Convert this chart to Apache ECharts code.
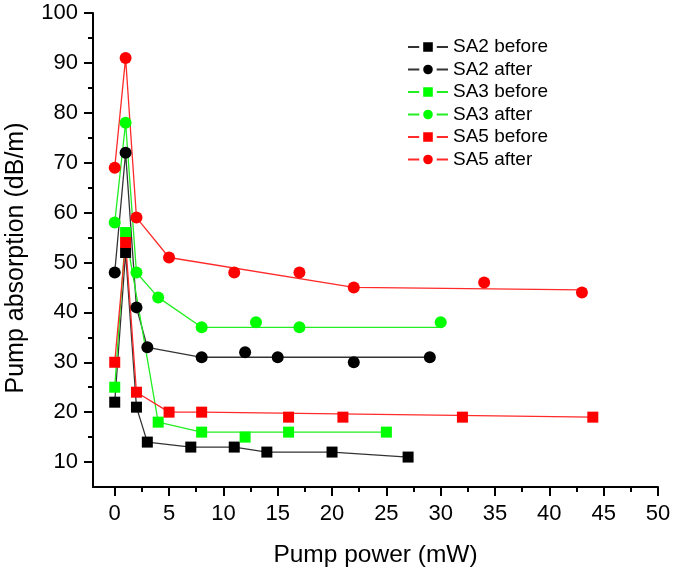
<!DOCTYPE html>
<html>
<head>
<meta charset="utf-8">
<script src="https://cdn.jsdelivr.net/npm/echarts@6/dist/echarts.min.js"></script>
<style>html,body{margin:0;padding:0;background:#fff}#c{width:675px;height:573px}</style>
</head>
<body>
<div id="c"></div>
<script>
// Tick labels
const xMajorTicks = [0, 5, 10, 15, 20, 25, 30, 35, 40, 45, 50];
const xMinorTicks = [2.5, 7.5, 12.5, 17.5, 22.5, 27.5, 32.5, 37.5, 42.5, 47.5];
const yMajorTicks = [10, 20, 30, 40, 50, 60, 70, 80, 90, 100];
const yMinorTicks = [15, 25, 35, 45, 55, 65, 75, 85, 95];

// Series names
const seriesNames = ['SA2 before', 'SA2 after', 'SA3 before', 'SA3 after', 'SA5 before', 'SA5 after'];

// Measured points
const sa2BeforeX = [0, 1, 2, 3, 7, 11, 14, 20, 27];
const sa2BeforeY = [22, 52, 21, 14, 13, 13, 12, 12, 11];
const sa2AfterX = [0, 1, 2, 3, 8, 12, 15, 22, 29];
const sa2AfterY = [48, 72, 41, 33, 31, 32, 31, 30, 31];
const sa3BeforeX = [0, 1, 4, 8, 12, 16, 25];
const sa3BeforeY = [25, 56, 18, 16, 15, 16, 16];
const sa3AfterX = [0, 1, 2, 4, 8, 13, 17, 30];
const sa3AfterY = [58, 78, 48, 43, 37, 38, 37, 38];
const sa5BeforeX = [0, 1, 2, 5, 8, 16, 21, 32, 44];
const sa5BeforeY = [30, 54, 24, 20, 20, 19, 19, 19, 19];
const sa5AfterX = [0, 1, 2, 5, 11, 17, 22, 34, 43];
const sa5AfterY = [69, 91, 59, 51, 48, 48, 45, 46, 44];

// Guide lines as drawn in the figure
const sa2BeforeLineX = [0, 1, 2, 3, 7, 11, 14, 20, 27];
const sa2BeforeLineY = [22, 52, 21, 14, 13, 13, 12, 12, 11];
const sa2AfterLineX = [0, 1, 2, 3, 8, 29];
const sa2AfterLineY = [48, 72, 41, 33, 31, 31];
const sa3BeforeLineX = [0, 1, 4, 8, 25];
const sa3BeforeLineY = [25, 56, 18, 16, 16];
const sa3AfterLineX = [0, 1, 2, 4, 8, 30];
const sa3AfterLineY = [58, 78, 48, 43, 37, 37];
const sa5BeforeLineX = [0, 1, 2, 5, 8, 44];
const sa5BeforeLineY = [30, 54, 24, 20, 20, 19];
const sa5AfterLineX = [0, 1, 2, 5, 22, 43];
const sa5AfterLineY = [69, 91, 59, 51, 45, 44.5];

const pts = (xs, ys) => xs.map((x, i) => [x, ys[i]]);

const FONT = 'Liberation Sans, Arial, sans-serif';
const defs = [
  {name: seriesNames[0], color: '#000000', line: '#333333', symbol: 'rect', size: 11, p: pts(sa2BeforeX, sa2BeforeY), l: pts(sa2BeforeLineX, sa2BeforeLineY)},
  {name: seriesNames[1], color: '#000000', line: '#333333', symbol: 'circle', size: 12, p: pts(sa2AfterX, sa2AfterY), l: pts(sa2AfterLineX, sa2AfterLineY)},
  {name: seriesNames[2], color: '#00ff00', line: '#22ee22', symbol: 'rect', size: 11, p: pts(sa3BeforeX, sa3BeforeY), l: pts(sa3BeforeLineX, sa3BeforeLineY)},
  {name: seriesNames[3], color: '#00ff00', line: '#22ee22', symbol: 'circle', size: 12, p: pts(sa3AfterX, sa3AfterY), l: pts(sa3AfterLineX, sa3AfterLineY)},
  {name: seriesNames[4], color: '#ff0000', line: '#ff2a2a', symbol: 'rect', size: 11, p: pts(sa5BeforeX, sa5BeforeY), l: pts(sa5BeforeLineX, sa5BeforeLineY)},
  {name: seriesNames[5], color: '#ff0000', line: '#ff2a2a', symbol: 'circle', size: 12, p: pts(sa5AfterX, sa5AfterY), l: pts(sa5AfterLineX, sa5AfterLineY)}
];

const series = [];
defs.forEach(d => {
  series.push({
    type: 'line', name: d.name, data: d.l, symbol: d.symbol, showSymbol: false,
    xAxisIndex: 0, yAxisIndex: 0,
    lineStyle: {color: d.line, width: 1.3},
    itemStyle: {color: d.color},
    silent: true, animation: false, z: 2
  });
});
defs.forEach(d => {
  series.push({
    type: 'scatter', name: d.name, data: d.p, symbol: d.symbol, symbolSize: d.size,
    xAxisIndex: 0, yAxisIndex: 0,
    itemStyle: {color: d.color, opacity: 1},
    silent: true, animation: false, z: 3
  });
});

const chart = echarts.init(document.getElementById('c'), null, {renderer: 'canvas'});
chart.setOption({
  backgroundColor: '#ffffff',
  animation: false,
  textStyle: {fontFamily: FONT},
  grid: {left: 93, right: 17, top: 13, bottom: 86, containLabel: false, outerBoundsMode: 'none'},
  legend: {
    data: seriesNames,
    orient: 'vertical', left: 402, top: 32,
    itemWidth: 40, itemHeight: 17, itemGap: 2.5,
    selectedMode: false,
    itemStyle: {borderColor: '#ffffff', borderWidth: 4},
    textStyle: {fontSize: 19, lineHeight: 20, color: '#000', fontFamily: FONT}
  },
  xAxis: [
    {
      type: 'value', min: -2, max: 50, position: 'bottom',
      name: 'Pump power (mW)', nameLocation: 'middle', nameGap: 56,
      nameTextStyle: {fontSize: 24.5, color: '#000', fontFamily: FONT},
      axisLine: {show: true, onZero: false, lineStyle: {color: '#000', width: 2}},
      axisTick: {show: true, customValues: xMajorTicks, length: 9, lineStyle: {color: '#000', width: 2}},
      axisLabel: {show: true, customValues: xMajorTicks, fontSize: 22, color: '#000', margin: 16, fontFamily: FONT},
      splitLine: {show: false}
    },
    {
      type: 'value', min: -2, max: 50, position: 'bottom',
      axisLine: {show: false, onZero: false},
      axisTick: {show: true, customValues: xMinorTicks, length: 5, lineStyle: {color: '#000', width: 2}},
      axisLabel: {show: false},
      splitLine: {show: false}
    }
  ],
  yAxis: [
    {
      type: 'value', min: 5, max: 100, position: 'left',
      name: 'Pump absorption (dB/m)', nameLocation: 'middle', nameGap: 64,
      nameTextStyle: {fontSize: 25, color: '#000', fontFamily: FONT, padding: [0, 16, 0, 0]},
      axisLine: {show: true, onZero: false, lineStyle: {color: '#000', width: 2}},
      axisTick: {show: true, customValues: yMajorTicks, length: 9, lineStyle: {color: '#000', width: 2}},
      axisLabel: {show: true, customValues: yMajorTicks, fontSize: 22, color: '#000', margin: 15, fontFamily: FONT},
      splitLine: {show: false}
    },
    {
      type: 'value', min: 5, max: 100, position: 'left',
      axisLine: {show: false, onZero: false},
      axisTick: {show: true, customValues: yMinorTicks, length: 5, lineStyle: {color: '#000', width: 2}},
      axisLabel: {show: false},
      splitLine: {show: false}
    }
  ],
  series: series
});
</script>
</body>
</html>
